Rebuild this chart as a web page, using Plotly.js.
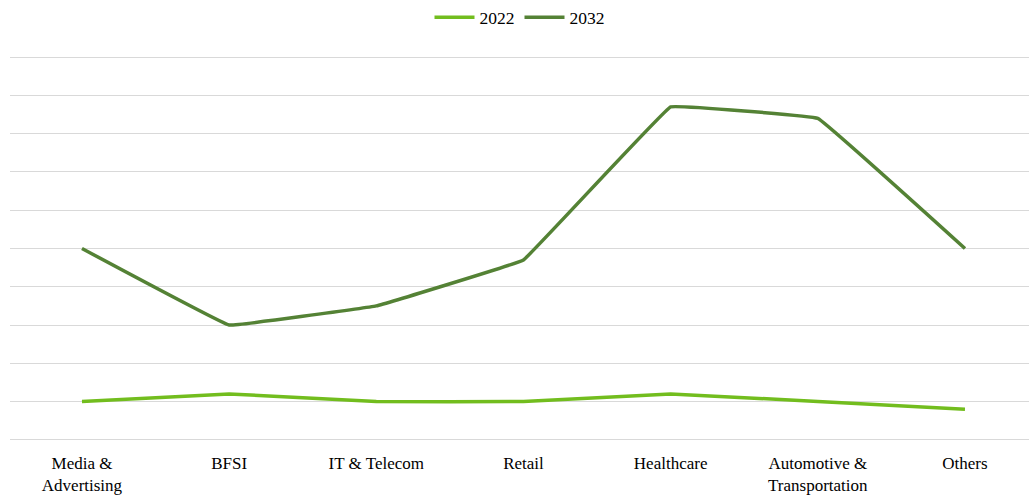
<!DOCTYPE html>
<html><head><meta charset="utf-8">
<script src="https://cdn.plot.ly/plotly-3.0.1.min.js"></script>
<style>body{margin:0;background:#fff}#c{width:1029px;height:496px}</style>
</head><body><div id="c"></div>
<script>
const categories = ["Media &<br>Advertising","BFSI","IT & Telecom","Retail","Healthcare","Automotive &<br>Transportation","Others"];
const values2022 = [1.0, 1.2, 1.0, 1.0, 1.2, 1.0, 0.8];
const values2032 = [5.0, 3.0, 3.5, 4.7, 8.7, 8.4, 5.0];
const idx = categories.map((_, i) => i);
const traces = [
  {x: idx, y: values2022, name: "2022", type: "scatter", mode: "lines",
   line: {color: "#72bd1e", width: 3.5, shape: "spline", smoothing: 0.12}},
  {x: idx, y: values2032, name: "2032", type: "scatter", mode: "lines",
   line: {color: "#548235", width: 3.5, shape: "spline", smoothing: 0.12}}
];
const layout = {
  width: 1029, height: 496,
  margin: {l: 10, r: 0, t: 56, b: 55},
  paper_bgcolor: "#fff", plot_bgcolor: "#fff",
  font: {family: "Liberation Serif, Times New Roman, serif", size: 17, color: "#000"},
  showlegend: true,
  legend: {orientation: "h", x: 0.5, xanchor: "center", y: 0.965, yanchor: "middle", yref: "container",
           font: {size: 17.5}, itemwidth: 40},
  xaxis: {range: [-0.489, 6.435], tickvals: idx, ticktext: categories, showgrid: false,
          zeroline: false, showline: false, ticks: "", tickfont: {size: 17}, ticklabelstandoff: 10},
  yaxis: {range: [-0.03, 10.03], dtick: 1, showticklabels: false, showgrid: true, gridcolor: "#d9d9d9",
          gridwidth: 1, zeroline: false, showline: false, ticks: ""}
};
Plotly.newPlot("c", traces, layout, {displayModeBar: false});
</script></body></html>
